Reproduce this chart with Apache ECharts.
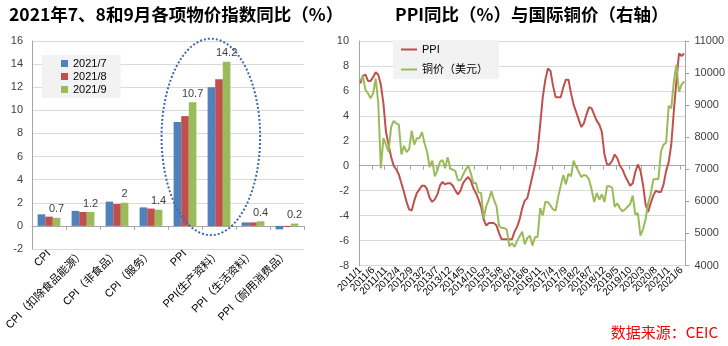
<!DOCTYPE html>
<html>
<head>
<meta charset="utf-8">
<script src="https://cdn.jsdelivr.net/npm/echarts@6/dist/echarts.min.js"></script>
<style>
  html, body { margin: 0; padding: 0; background: #fff; }
  #c { width: 728px; height: 346px; }
</style>
</head>
<body>
<div id="c"></div>
<script>
// ---- Left panel: price indices, Jul/Aug/Sep 2021 (YoY %) ----
const barCategories = ['CPI', 'CPI（扣除食品能源）', 'CPI（非食品）', 'CPI（服务）', 'PPI', 'PPI(生产资料）', 'PPI（生活资料）', 'PPI（耐用消费品）'];
const barSeriesNames = ['2021/7', '2021/8', '2021/9'];
const jul2021 = [1.0, 1.3, 2.1, 1.6, 9.0, 12.0, 0.3, -0.3];
const aug2021 = [0.8, 1.2, 1.9, 1.5, 9.5, 12.7, 0.3, -0.1];
const sep2021 = [0.7, 1.2, 2.0, 1.4, 10.7, 14.2, 0.4, 0.2];
const barColors = ['#4F81BD', '#C0504D', '#9BBB59'];

// ---- Right panel: PPI YoY (%) vs copper price (USD, right axis), monthly 2011/1 - 2021/7 ----
const startYear = 2011, startMonth = 1, monthCount = 127;
const monthLabelEvery = 5;
const months = [];
for (let k = 0; k < monthCount; k++) {
  const m = startMonth - 1 + k;
  months.push((startYear + Math.floor(m / 12)) + '/' + (m % 12 + 1));
}
const ppiYoY = [
  6.6, 7.2, 7.3, 6.8, 6.8, 7.1, 7.5, 7.3, 6.5, 5.0, 2.7, 1.7,
  0.7, 0.0, -0.3, -0.7, -1.4, -2.1, -2.9, -3.5, -3.6, -2.8, -2.2, -1.9,
  -1.6, -1.6, -1.9, -2.6, -2.9, -2.7, -2.3, -1.6, -1.3, -1.5, -1.4, -1.4,
  -1.6, -2.0, -2.3, -2.0, -1.4, -1.1, -0.9, -1.2, -1.8, -2.2, -2.7, -3.3,
  -4.3, -4.8, -4.6, -4.6, -4.6, -4.8, -5.4, -5.9, -5.9, -5.9, -5.9, -5.9,
  -5.3, -4.9, -4.3, -3.4, -2.8, -2.6, -1.7, -0.8, 0.1, 1.2, 3.3, 5.5,
  6.9, 7.8, 7.6, 6.4, 5.5, 5.5, 5.5, 6.3, 6.9, 6.9, 5.8, 4.9,
  4.3, 3.7, 3.1, 3.4, 4.1, 4.7, 4.6, 4.1, 3.6, 3.3, 2.7, 0.9,
  0.1, 0.1, 0.4, 0.9, 0.6, 0.0, -0.3, -0.8, -1.2, -1.6, -1.4, -0.5,
  0.1, -0.4, -1.5, -3.1, -3.7, -3.0, -2.4, -2.0, -2.1, -2.1, -1.5, -0.4,
  0.3, 1.7, 4.4, 6.8, 9.0, 8.8, 9.0
];
const copperUSD = [
  9760, 9910, 9480, 9370, 9210, 9370, 9830, 9060, 7030, 7970, 7770, 7540,
  8320, 8510, 8430, 8390, 7460, 7730, 7540, 7620, 8200, 7770, 7970, 7970,
  8160, 7810, 7540, 7070, 7270, 6780, 6960, 7230, 7290, 7030, 7380, 7030,
  6990, 6940, 6660, 6660, 6830, 6990, 7110, 6880, 6570, 6570, 6280, 6260,
  5480, 5850, 6050, 6310, 6050, 5850, 5230, 5170, 5170, 5120, 4600, 4700,
  4580, 4760, 4910, 5050, 4660, 4860, 4930, 4620, 4890, 4890, 5790, 5560,
  5980, 5980, 5870, 5750, 5710, 6140, 6490, 6820, 6530, 6860, 6780, 7270,
  7070, 6920, 6760, 6820, 6800, 6680, 6370, 5980, 6260, 6060, 6220, 5980,
  6470, 6470, 6430, 5830, 5940, 5790, 5690, 5750, 5830, 5910, 6180, 5590,
  5630, 4930, 5130, 5440, 5940, 6220, 6680, 6700, 6700, 7560, 7770, 7830,
  8980, 8900, 9740, 10260, 9410, 9640, 9740
];

const axisGray = '#A6A6A6';
const gridGray = '#D9D9D9';
const textGray = '#404040';
const latinCjk = "'Liberation Sans', 'Noto Sans CJK SC', sans-serif";
const cjkFont = "'Noto Sans CJK SC', sans-serif";

const chart = echarts.init(document.getElementById('c'), null, { renderer: 'canvas' });

const option = {
  animation: false,
  backgroundColor: '#ffffff',
  textStyle: { fontFamily: latinCjk },
  title: [
    { text: '2021年7、8和9月各项物价指数同比（%）', left: 4, top: 1,
      textStyle: { fontFamily: cjkFont, fontSize: 17.5, fontWeight: 'bold', color: '#000' } },
    { text: 'PPI同比（%）与国际铜价（右轴）', left: 390, top: 1,
      textStyle: { fontFamily: cjkFont, fontSize: 17.5, fontWeight: 'bold', color: '#000' } },
    { text: '数据来源：CEIC', right: 5, bottom: 1,
      textStyle: { fontFamily: cjkFont, fontSize: 15, fontWeight: 'normal', color: '#FF0000' } }
  ],
  legend: [
    { data: barSeriesNames, orient: 'vertical', left: 42, top: 55,
      backgroundColor: '#F2F2F2', padding: [3, 14, 3, 19], itemGap: 2,
      icon: 'rect', itemWidth: 7, itemHeight: 7,
      textStyle: { fontSize: 11, color: '#000', fontFamily: latinCjk } },
    { data: ['PPI', '铜价（美元）'], orient: 'vertical', left: 393, top: 40,
      backgroundColor: '#F2F2F2', padding: [4, 11, 4, 8], itemGap: 9,
      icon: 'rect', itemWidth: 16, itemHeight: 2,
      textStyle: { fontSize: 11, color: '#000', fontFamily: latinCjk } }
  ],
  grid: [
    { left: 32, top: 41, width: 272, height: 208 },
    { left: 359, top: 41, width: 331, height: 224.5 }
  ],
  xAxis: [
    { type: 'category', gridIndex: 0, data: barCategories,
      axisLine: { onZero: true, lineStyle: { color: axisGray } },
      axisTick: { show: true, length: 4, lineStyle: { color: axisGray } },
      axisLabel: { interval: 0, rotate: 45, margin: 3, fontSize: 11, color: '#000' } },
    { type: 'category', gridIndex: 1, data: months, boundaryGap: true,
      axisLine: { onZero: true, lineStyle: { color: axisGray } },
      axisTick: { show: true, interval: monthLabelEvery - 1, length: 4, lineStyle: { color: axisGray } },
      axisLabel: { show: false } },
    { type: 'category', gridIndex: 1, data: months, boundaryGap: true, position: 'bottom',
      axisLine: { show: false, onZero: false },
      axisTick: { show: false },
      axisLabel: { interval: 0, rotate: 45, margin: 3, fontSize: 10, color: '#000',
        formatter: (v, idx) => (idx % monthLabelEvery === 0 ? v : '') } }
  ],
  yAxis: [
    { type: 'value', gridIndex: 0, min: -2, max: 16, interval: 2,
      axisLine: { show: true, lineStyle: { color: axisGray } },
      axisTick: { show: false },
      splitLine: { lineStyle: { color: gridGray } },
      axisLabel: { fontSize: 11, color: textGray, margin: 9 } },
    { type: 'value', gridIndex: 1, min: -8, max: 10, interval: 2, position: 'left',
      axisLine: { show: true, lineStyle: { color: axisGray } },
      axisTick: { show: false },
      splitLine: { lineStyle: { color: gridGray } },
      axisLabel: { fontSize: 11, color: textGray, margin: 10 } },
    { type: 'value', gridIndex: 1, min: 4000, max: 11000, interval: 1000, position: 'right',
      axisLine: { show: true, lineStyle: { color: axisGray } },
      axisTick: { show: true, length: 4, lineStyle: { color: axisGray } },
      splitLine: { show: false },
      axisLabel: { fontSize: 11, color: textGray, margin: 9, formatter: v => String(v) } }
  ],
  series: [
    { name: barSeriesNames[0], type: 'bar', xAxisIndex: 0, yAxisIndex: 0, data: jul2021,
      itemStyle: { color: barColors[0] }, barGap: '0%', barCategoryGap: '33%' },
    { name: barSeriesNames[1], type: 'bar', xAxisIndex: 0, yAxisIndex: 0, data: aug2021,
      itemStyle: { color: barColors[1] }, barGap: '0%', barCategoryGap: '33%' },
    { name: barSeriesNames[2], type: 'bar', xAxisIndex: 0, yAxisIndex: 0, data: sep2021,
      itemStyle: { color: barColors[2] }, barGap: '0%', barCategoryGap: '33%',
      label: { show: true, position: 'top', distance: 3, fontSize: 11, color: textGray } },
    { name: 'PPI', type: 'line', xAxisIndex: 1, yAxisIndex: 1, data: ppiYoY,
      symbol: 'none', lineStyle: { width: 2, color: '#C0504D' }, itemStyle: { color: '#C0504D' } },
    { name: '铜价（美元）', type: 'line', xAxisIndex: 1, yAxisIndex: 2, data: copperUSD,
      symbol: 'none', lineStyle: { width: 2, color: '#9BBB59' }, itemStyle: { color: '#9BBB59' } }
  ]
};
chart.setOption(option);

// Dotted ellipse highlighting the two PPI clusters, placed through the axes
const pPPI = chart.convertToPixel({ xAxisIndex: 0 }, barCategories[4]);
const pProd = chart.convertToPixel({ xAxisIndex: 0 }, barCategories[5]);
const step = pProd - pPPI;
const yTop = chart.convertToPixel({ yAxisIndex: 0 }, 16.2);
const yBot = chart.convertToPixel({ yAxisIndex: 0 }, -0.8);
chart.setOption({
  graphic: [{
    type: 'ellipse', z: 100,
    shape: { cx: pPPI + 0.76 * step, cy: (yTop + yBot) / 2, rx: 1.45 * step, ry: (yBot - yTop) / 2 },
    style: { fill: null, stroke: '#3D68AA', lineWidth: 2, lineDash: [2, 2] }
  }]
});
</script>
</body>
</html>
